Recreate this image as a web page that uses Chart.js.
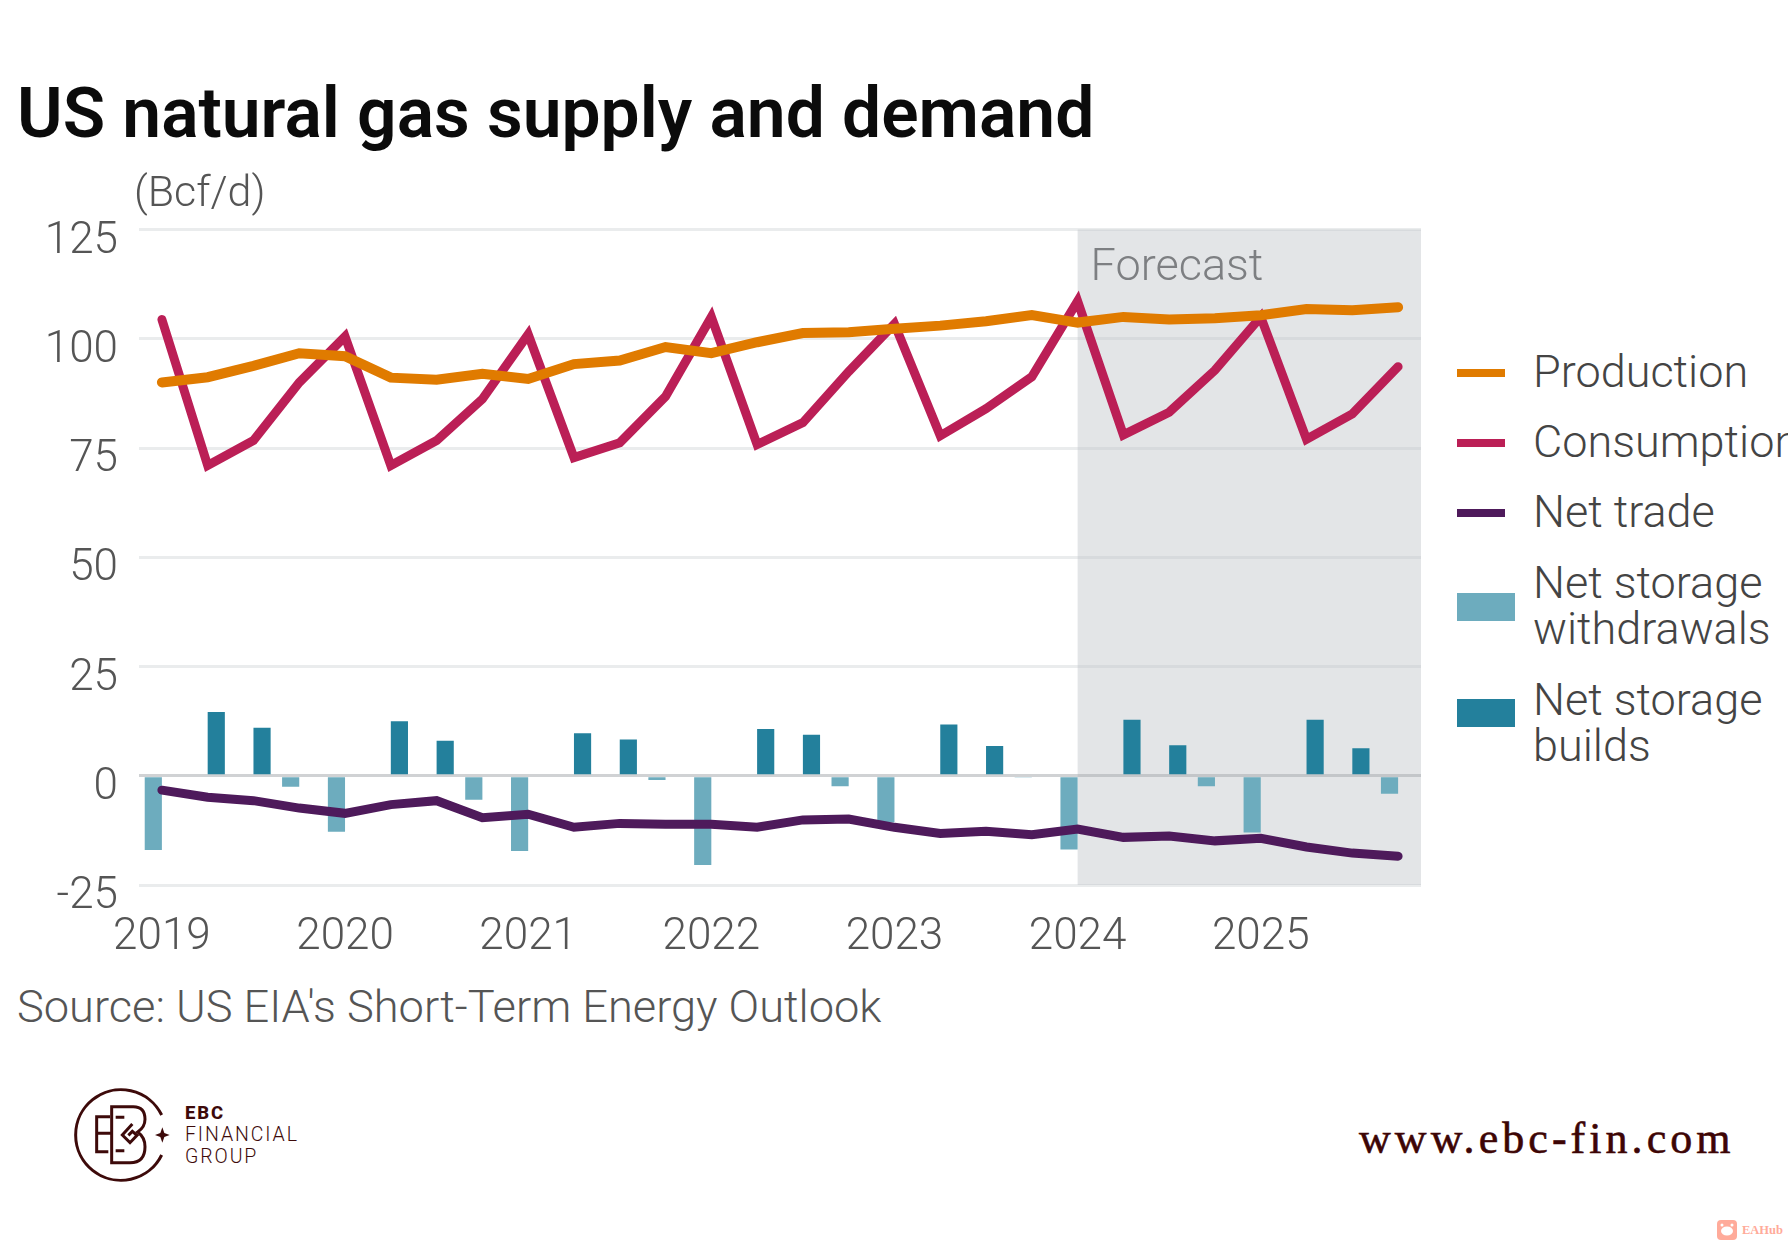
<!DOCTYPE html>
<html>
<head>
<meta charset="utf-8">
<title>US natural gas supply and demand</title>
<script src="https://cdn.jsdelivr.net/npm/chart.js@4/dist/chart.umd.min.js"></script>
<style>
    html, body { margin: 0; padding: 0; background: #fff; }
    body { position: relative; width: 1788px; height: 1245px; overflow: hidden; font-family: Roboto, sans-serif; }
    canvas { position: absolute; left: 0; top: 0; }
    .txt { position: absolute; white-space: nowrap; }
    #title { left: 17px; top: 72px; font-size: 69.5px; line-height: 84px; font-weight: 600; color: #0b0b0b; }
    #unit { left: 134px; top: 167px; font-size: 43px; line-height: 48px; font-weight: 300; color: #555; }
    #source { left: 17px; top: 980px; font-size: 45.2px; line-height: 54px; font-weight: 300; color: #555; }
    .swatch { position: absolute; left: 1457px; }
    .leg { position: absolute; left: 1533px; font-size: 45px; line-height: 46px; font-weight: 300; color: #444; white-space: nowrap; }
    #url { left: 1359px; top: 1114px; font-family: "Liberation Serif", serif; font-weight: 400; font-size: 44px; line-height: 50px; letter-spacing: 4.05px; color: #3d0505; -webkit-text-stroke: 0.6px #3d0505; }
    .brand { left: 185px; color: #3d0a0a; font-size: 19.5px; line-height: 24px; font-weight: 300; letter-spacing: 1.9px; }
    #eahub { left: 1742px; top: 1220px; font-family: "Liberation Serif", serif; font-weight: 700; font-size: 12.5px; line-height: 20px; color: #ffab9a; }
</style>
</head>
<body>
<canvas id="gasChart" width="1430" height="980"></canvas>
<div class="txt" id="title">US natural gas supply and demand</div>
<div class="txt" id="unit">(Bcf/d)</div>
<div class="txt" id="source">Source: US EIA's Short-Term Energy Outlook</div>
<div id="legend"></div>

<svg style="position:absolute;left:65px;top:1080px" width="240" height="110" viewBox="0 0 720 330" fill="none" stroke="#3d0a0a" stroke-width="9">
    <path d="M290 105 A136 136 0 1 0 290 225"/>
    <path d="M135 110 H95 V215 H130 M95 160 H140"/>
    <path d="M140 80 H205 Q240 80 240 118 Q240 142 218 156 Q240 172 240 200 Q240 248 195 248 H140 Z"/>
    <path d="M152 112 H178 M152 212 H178"/>
    <path d="M202 132 L172 165 L195 188 L216 166 L202 154 L190 166"/>
    <path d="M292 142 L298 159 L314 165 L298 171 L292 188 L286 171 L270 165 L286 159 Z" fill="#3d0a0a" stroke="none"/>
</svg>
<div class="txt brand" style="top:1101px;font-weight:800;font-size:18.5px">EBC</div>
<div class="txt brand" style="top:1123px">FINANCIAL</div>
<div class="txt brand" style="top:1145px">GROUP</div>

<div class="txt" id="url">www.ebc-fin.com</div>
<svg style="position:absolute;left:1717px;top:1220px" width="20" height="20" viewBox="0 0 20 20">
    <rect width="20" height="20" rx="4" fill="#ffab9a"/>
    <ellipse cx="10" cy="11" rx="6" ry="4.5" fill="#fff"/>
    <circle cx="5" cy="5" r="1.5" fill="#fff"/>
    <circle cx="15" cy="5" r="1.5" fill="#fff"/>
</svg>
<div class="txt" id="eahub">EAHub</div>

<script>
// Quarterly values, Bcf/d
const quarters = [
    '2019', '2019 Q2', '2019 Q3', '2019 Q4',
    '2020', '2020 Q2', '2020 Q3', '2020 Q4',
    '2021', '2021 Q2', '2021 Q3', '2021 Q4',
    '2022', '2022 Q2', '2022 Q3', '2022 Q4',
    '2023', '2023 Q2', '2023 Q3', '2023 Q4',
    '2024', '2024 Q2', '2024 Q3', '2024 Q4',
    '2025', '2025 Q2', '2025 Q3', '2025 Q4'
];
const production = [
    90, 91.2, 93.8, 96.7, 96, 91.1, 90.6, 92,
    90.8, 94.2, 95, 98.1, 96.7, 99.2, 101.3, 101.5,
    102.3, 103, 104, 105.4, 103.7, 105, 104.4, 104.7,
    105.4, 106.8, 106.5, 107.2
];
const consumption = [
    104.4, 71, 76.7, 90, 100.5, 71, 76.7, 86.2,
    101, 72.8, 76.2, 86.8, 105, 75.8, 80.8, 92.5,
    103.4, 77.8, 84, 91.3, 108.6, 78, 83.2, 92.8,
    105, 77, 82.8, 93.6
];
const netTrade = [
    -3.3, -4.9, -5.7, -7.4, -8.6, -6.6, -5.7, -9.6,
    -8.8, -11.8, -10.9, -11.1, -11.1, -11.8, -10.1, -9.9,
    -11.8, -13.2, -12.7, -13.5, -12.2, -14.1, -13.8, -14.9,
    -14.3, -16.3, -17.7, -18.4
];
const withdrawals = [
    -17, null, null, -2.5, -12.8, null, null, -5.5,
    -17.2, null, null, -1, -20.4, null, null, -2.4,
    -10.7, null, null, -0.4, -16.9, null, null, -2.4,
    -13, null, null, -4.1
];
const builds = [
    null, 14.6, 11, null, null, 12.5, 8, null,
    null, 9.7, 8.3, null, null, 10.7, 9.4, null,
    null, 11.7, 6.8, null, null, 12.8, 7, null,
    null, 12.8, 6.3, null
];
const forecastStart = '2024';

const colors = {
    production: '#e07b00',
    consumption: '#bb1f56',
    netTrade: '#4e1a5b',
    withdrawals: '#6dacbe',
    builds: '#23809c'
};

// Legend is plain html so the two storage labels can wrap like the original
const legendItems = [
    { lines: ['Production'], color: colors.production, top: 369, w: 48, h: 8, textTop: 349 },
    { lines: ['Consumption'], color: colors.consumption, top: 439, w: 48, h: 8, textTop: 419 },
    { lines: ['Net trade'], color: colors.netTrade, top: 509, w: 48, h: 8, textTop: 489 },
    { lines: ['Net storage', 'withdrawals'], color: colors.withdrawals, top: 593, w: 58, h: 28, textTop: 560 },
    { lines: ['Net storage', 'builds'], color: colors.builds, top: 699, w: 58, h: 28, textTop: 677 }
];
const legendEl = document.getElementById('legend');
legendItems.forEach(item => {
    const swatch = document.createElement('div');
    swatch.className = 'swatch';
    swatch.style.cssText = `top:${item.top}px;width:${item.w}px;height:${item.h}px;background:${item.color}`;
    legendEl.appendChild(swatch);
    const text = document.createElement('div');
    text.className = 'leg';
    text.style.top = item.textTop + 'px';
    text.innerHTML = item.lines.join('<br>');
    legendEl.appendChild(text);
});

// Grey forecast band, sits under the gridlines
const forecastBand = {
    id: 'forecastBand',
    beforeDraw(chart) {
        const { ctx, chartArea, scales } = chart;
        const left = scales.x.getPixelForValue(quarters.indexOf(forecastStart));
        ctx.save();
        ctx.fillStyle = '#e3e5e7';
        ctx.fillRect(left, chartArea.top, chartArea.right - left, chartArea.bottom - chartArea.top);
        ctx.restore();
    },
    afterDraw(chart) {
        const { ctx, chartArea, scales } = chart;
        const left = scales.x.getPixelForValue(quarters.indexOf(forecastStart));
        ctx.save();
        ctx.font = '300 45px Roboto';
        ctx.fillStyle = '#7d7f82';
        ctx.textBaseline = 'middle';
        ctx.fillText('Forecast', left + 13, chartArea.top + 39);
        ctx.restore();
    }
};

const lineDataset = (label, data, color, order, width) => ({
    type: 'line',
    label,
    data,
    order,
    borderColor: color,
    borderWidth: width,
    borderCapStyle: 'round',
    borderJoinStyle: 'miter',
    tension: 0,
    pointRadius: 0,
    fill: false
});

new Chart(document.getElementById('gasChart').getContext('2d'), {
    data: {
        labels: quarters,
        datasets: [
            lineDataset('Production', production, colors.production, 1, 10),
            lineDataset('Consumption', consumption, colors.consumption, 2, 9),
            lineDataset('Net trade', netTrade, colors.netTrade, 3, 9),
            {
                type: 'bar',
                label: 'Net storage withdrawals',
                data: withdrawals,
                order: 4,
                backgroundColor: colors.withdrawals,
                categoryPercentage: 0.75,
                barPercentage: 1
            },
            {
                type: 'bar',
                label: 'Net storage builds',
                data: builds,
                order: 5,
                backgroundColor: colors.builds,
                categoryPercentage: 0.75,
                barPercentage: 1
            }
        ]
    },
    options: {
        responsive: false,
        animation: false,
        devicePixelRatio: 1,
        layout: { padding: { top: 229.5, right: 9, left: 0, bottom: 0 } },
        plugins: {
            legend: { display: false },
            tooltip: { enabled: false },
            title: { display: false }
        },
        scales: {
            x: {
                offset: true,
                border: { display: false },
                grid: { display: false, drawTicks: false },
                afterFit: scale => { scale.height = 980 - 885; },
                ticks: {
                    autoSkip: false,
                    maxRotation: 0,
                    padding: 27,
                    color: '#555',
                    font: { family: 'Roboto', size: 44, weight: 300 },
                    callback(value) {
                        const label = this.getLabelForValue(value);
                        return label.length === 4 ? label : '';
                    }
                }
            },
            y: {
                min: -25,
                max: 125,
                border: { display: false },
                afterFit: scale => { scale.width = 139; },
                grid: {
                    drawTicks: false,
                    color: ctx => ctx.tick.value === 0 ? 'rgba(170,173,177,0.55)' : 'rgba(190,195,198,0.32)',
                    lineWidth: 3
                },
                ticks: {
                    stepSize: 25,
                    padding: 21,
                    color: '#555',
                    // blank first line pushes the number just under its gridline
                    font: { family: 'Roboto', size: 44, weight: 300, lineHeight: '24px' },
                    callback: value => ['', String(value)]
                }
            }
        }
    },
    plugins: [forecastBand]
});
</script>
</body>
</html>
